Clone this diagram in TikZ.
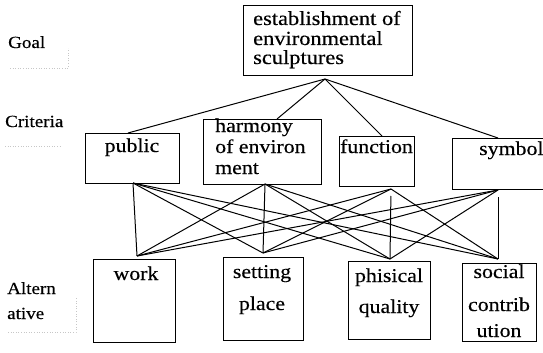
\documentclass[tikz,border=0pt]{standalone}
\usepackage{fontspec}
\setmainfont[FakeStretch=1.12,FakeBold=0.4]{Liberation Serif}
\begin{document}
\begin{tikzpicture}[x=1pt,y=-1pt,
  box/.style={draw, line width=0.9pt, inner sep=0pt, anchor=north west},
  txt/.style={font=\fontsize{19.5}{22}\selectfont, inner sep=0pt, anchor=base west},
  ctxt/.style={font=\fontsize{19.5}{22}\selectfont, inner sep=0pt, anchor=base},
  gtxt/.style={font=\fontsize{20}{22}\selectfont, inner sep=0pt, anchor=base west},
  side/.style={font=\fontsize{17}{20}\selectfont, inner sep=0pt, anchor=base west},
  con/.style={line width=1pt},
  faint/.style={black!22, dotted, line width=0.6pt}]
\useasboundingbox (0,0) rectangle (543,353);
% side labels
\node[side] (lgoal) at (8,48) {Goal};
\node[side] (lcrit) at (5,127) {Criteria};
\node[side] (lalt1) at (7,294) {Altern};
\node[side] (lalt2) at (7,319) {ative};
\draw[faint] (10,68) -- (68,68) -- (68,48);
\draw[faint] (5,146) -- (62,146);
\draw[faint] (8,332) -- (76,332) -- (76,298);
% goal
\node[box, minimum width=169pt, minimum height=70pt] (goal) at (243,5) {};
\node[gtxt] (g1) at (253,25) {establishment of};
\node[gtxt] (g2) at (253,45) {environmental};
\node[gtxt] (g3) at (253,64) {sculptures};
% criteria
\node[box, minimum width=94pt, minimum height=50pt] (pub) at (85,133) {};
\node[ctxt] (pubt) at (132,152) {public};
\node[box, minimum width=118pt, minimum height=65pt] (har) at (203,119) {};
\node[txt] (har1) at (215,132) {harmony};
\node[txt] (har2) at (215,153) {of environ};
\node[txt] (har3) at (215,174) {ment};
\node[box, minimum width=75pt, minimum height=50pt] (fun) at (339,136) {};
\node[ctxt] (funt) at (376.5,153) {function};
\node[box, minimum width=110pt, minimum height=51pt] (sym) at (452,138) {};
\node[txt] (symt) at (479,155) {symbol};
% alternatives
\node[box, minimum width=82pt, minimum height=83pt] (work) at (93,259) {};
\node[ctxt] (workt) at (136,280) {work};
\node[box, minimum width=80pt, minimum height=83pt] (set) at (223,257) {};
\node[ctxt] (set1) at (262,278) {setting};
\node[ctxt] (set2) at (262,310) {place};
\node[box, minimum width=82pt, minimum height=78pt] (phy) at (348,261) {};
\node[ctxt] (phy1) at (389,282) {phisical};
\node[ctxt] (phy2) at (389,313) {quality};
\node[box, minimum width=74pt, minimum height=78pt] (soc) at (462,263) {};
\node[ctxt] (soc1) at (499,278) {social};
\node[ctxt] (soc2) at (499,311) {contrib};
\node[ctxt] (soc3) at (499,337) {ution};
% connection points
\coordinate (apex) at (325,79);
\coordinate (pt) at (128,133);
\coordinate (ht) at (277,119);
\coordinate (ft) at (382,136);
\coordinate (st) at (498,138);
\coordinate (pb) at (133,183);
\coordinate (hb) at (265,184);
\coordinate (fb) at (391,189);
\coordinate (sb) at (498,190);
\coordinate (wa) at (137,256);
\coordinate (sa) at (263,253);
\coordinate (qa) at (390,259);
\coordinate (ca) at (498,259);
% goal to criteria
\foreach \c in {pt,ht,ft,st} \draw[con] (apex) -- (\c);
% criteria to alternatives
\foreach \a in {wa,sa,qa,ca} {
  \draw[con] (pb) -- (\a);
  \draw[con] (hb) -- (\a);
}
\foreach \a in {wa,sa,ca} \draw[con] (fb) -- (\a);
\draw[con, shorten <=7pt] (fb) -- (qa);
\foreach \a in {wa,sa,qa} \draw[con] (sb) -- (\a);
\draw[con, shorten <=7pt] (sb) -- (ca);
\end{tikzpicture}
\end{document}
